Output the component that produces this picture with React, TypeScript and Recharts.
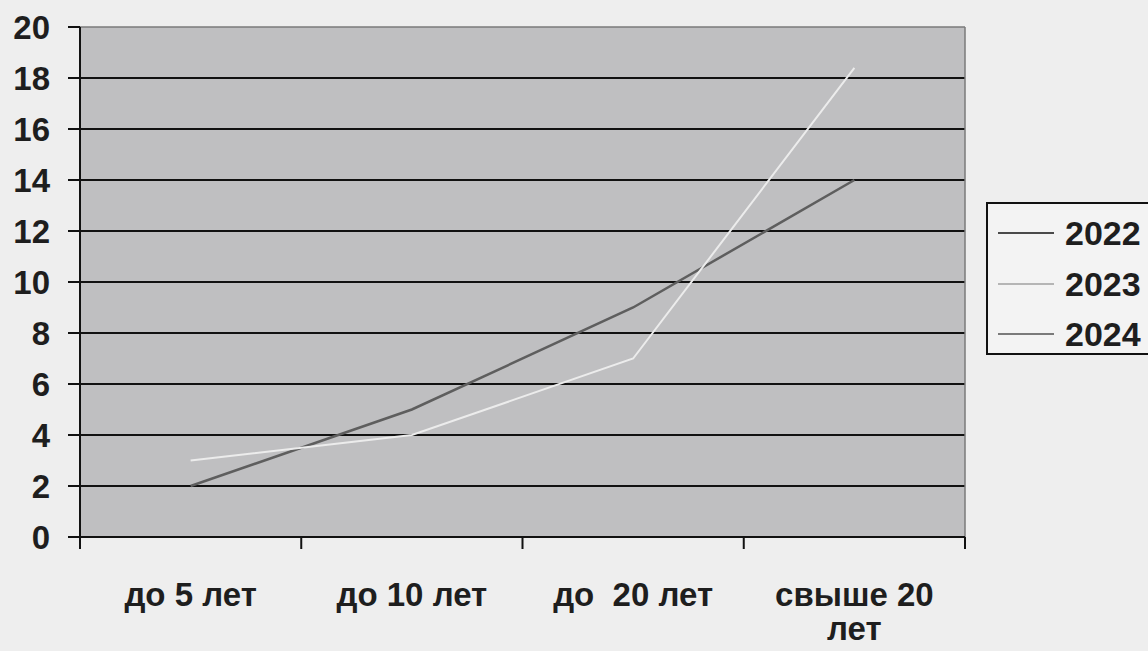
import { LineChart, Line, XAxis, YAxis, CartesianGrid, Legend } from "recharts";

const categories = ["до 5 лет", "до 10 лет", "до  20 лет", "свыше 20 лет"];
const series2022 = [2, 5, 9, 14];
const series2023 = [3, 4, 7, 18.4];
const series2024: (number | null)[] = [null, null, null, null];
const yTicks = [0, 2, 4, 6, 8, 10, 12, 14, 16, 18, 20];

const SERIES = [
  { key: "2022", color: "#5e5e5e", legendColor: "#4a4a4a", width: 2.5 },
  { key: "2023", color: "#ececec", legendColor: "#b5b5b5", width: 2 },
  { key: "2024", color: "#8a8a8a", legendColor: "#7a7a7a", width: 2 },
];

const W = 1148;
const H = 651;
const MARGIN = { top: 27, right: 183, bottom: 0, left: 0 };
const FONT = '"Liberation Sans", Arial, sans-serif';

// boundaries 0..4, category centres at i + 0.5
const data = categories.map((name, i) => ({
  x: i + 0.5,
  name,
  "2022": series2022[i],
  "2023": series2023[i],
  "2024": series2024[i],
}));
const xTicks = [0, 1, 2, 3, 4, ...categories.map((_, i) => i + 0.5)].sort((a, b) => a - b);

function splitLabel(s: string) {
  if (s.length <= 10) return [s];
  const at = s.lastIndexOf(" ");
  return [s.slice(0, at), s.slice(at + 1)];
}

function XTick(props: any) {
  const { x, y, payload } = props;
  const v = payload.value;
  if (Number.isInteger(v)) {
    return <line x1={x} x2={x} y1={y - 12} y2={y} stroke="#111" strokeWidth={2} />;
  }
  const lines = splitLabel(categories[Math.floor(v)]);
  return (
    <text
      x={x}
      y={y + 57}
      textAnchor="middle"
      fontFamily={FONT}
      fontWeight="bold"
      fontSize={33}
      fill="#1e1e1e"
      style={{ whiteSpace: "pre" }}
    >
      {lines.map((l, i) => (
        <tspan key={i} x={x} dy={i === 0 ? 0 : 34}>
          {l}
        </tspan>
      ))}
    </text>
  );
}

function HLine(p: any) {
  const top = p.y1 <= MARGIN.top + 1;
  return (
    <line
      key={p.key}
      x1={p.x1}
      x2={p.x2}
      y1={p.y1}
      y2={p.y2}
      stroke={top ? "#7a7a7a" : "#111"}
      strokeWidth={top ? 1.5 : 2}
    />
  );
}

function VLine(p: any) {
  if (p.x1 < W - MARGIN.right - 1) return <g key={p.key} />;
  return <line key={p.key} x1={p.x1} x2={p.x2} y1={p.y1} y2={p.y2} stroke="#7a7a7a" strokeWidth={1.5} />;
}

function LegendBox() {
  return (
    <div
      style={{
        width: 200,
        height: 153,
        border: "2px solid #111",
        background: "#f3f3f3",
        boxSizing: "border-box",
        paddingTop: 4,
      }}
    >
      {SERIES.map((s) => (
        <div key={s.key} style={{ display: "flex", alignItems: "center", height: 50.5 }}>
          <div style={{ width: 56, height: 0, borderTop: `2px solid ${s.legendColor}`, marginLeft: 10 }} />
          <span
            style={{
              marginLeft: 11,
              fontFamily: FONT,
              fontWeight: "bold",
              fontSize: 34,
              color: "#1e1e1e",
              lineHeight: 1,
            }}
          >
            {s.key}
          </span>
        </div>
      ))}
    </div>
  );
}

export default function App() {
  return (
    <div style={{ width: W, height: H, background: "#eeeeee" }}>
      <style>{"body{margin:0;background:#eeeeee}"}</style>
      <LineChart width={W} height={H} data={data} margin={MARGIN}>
        <CartesianGrid
          fill="#bfbfc1"
          horizontal={HLine}
          vertical={VLine}
          verticalPoints={[W - MARGIN.right]}
        />
        <XAxis
          dataKey="x"
          type="number"
          domain={[0, 4]}
          ticks={xTicks}
          interval={0}
          height={H - 537}
          axisLine={{ stroke: "#111", strokeWidth: 2 }}
          tickLine={false}
          tickSize={12}
          tickMargin={0}
          tick={<XTick />}
        />
        <YAxis
          domain={[0, 20]}
          ticks={yTicks}
          interval={0}
          width={80}
          axisLine={{ stroke: "#111", strokeWidth: 2 }}
          tickLine={{ stroke: "#111", strokeWidth: 2 }}
          tickSize={12}
          tickMargin={18}
          tick={{ fill: "#1e1e1e", fontSize: 33, fontWeight: "bold", fontFamily: FONT }}
        />
        {SERIES.map((s) => (
          <Line
            key={s.key}
            type="linear"
            dataKey={s.key}
            stroke={s.color}
            strokeWidth={s.width}
            dot={false}
            activeDot={false}
            connectNulls={false}
            isAnimationActive={false}
          />
        ))}
        <Legend
          layout="vertical"
          align="center"
          verticalAlign="middle"
          content={<LegendBox />}
          wrapperStyle={{ position: "absolute", left: 986, top: 202, width: 200 }}
        />
      </LineChart>
    </div>
  );
}
